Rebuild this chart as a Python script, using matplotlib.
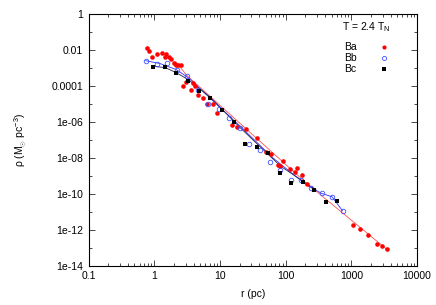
import matplotlib
matplotlib.use("Agg")
import matplotlib.pyplot as plt
from matplotlib.lines import Line2D
from matplotlib.ticker import LogLocator, FixedLocator, NullFormatter
import numpy as np

plt.rcParams['font.family'] = ['Liberation Sans', 'DejaVu Sans']
plt.rcParams['mathtext.fontset'] = 'custom'
plt.rcParams['mathtext.rm'] = 'Liberation Sans'
plt.rcParams['mathtext.it'] = 'Liberation Sans:italic'

# ---- data ----
r_Ba = [0.77, 0.848, 0.933, 1.10, 1.31, 1.44, 1.53, 1.68, 1.83, 1.97, 2.15, 2.33, 2.56,
        2.77, 3.10, 3.59, 3.90, 4.25, 4.59, 5.47, 6.43, 7.76, 9.03, 15.3, 18.2, 25.4,
        36.1, 50.8, 59.3, 77.4, 83.0, 90.3, 117, 139, 151, 178, 214,
        1050, 1356, 1766, 2460, 2913, 3468]
rho_Ba = [1.32e-2, 9.0e-3, 4.17e-3, 6.37e-3, 6.97e-3, 4.01e-3, 6.37e-3, 4.28e-3, 3.1e-3,
          1.86e-3, 1.55e-3, 1.49e-3, 1.59e-3, 1.05e-4, 1.68e-4, 6.03e-5, 1.43e-4, 1.05e-4,
          3.17e-5, 2.03e-5, 9.4e-6, 1.0e-5, 3.27e-6, 7.2e-7, 5.0e-7, 4.3e-7, 1.24e-7,
          2.03e-8, 1.63e-8, 4.14e-9, 3.64e-9, 6.65e-9, 2.29e-9, 1.68e-9, 2.81e-9, 1.10e-9,
          3.34e-10, 1.80e-12, 1.08e-12, 4.99e-13, 1.57e-13, 1.25e-13, 7.96e-14]

r_Bb = [0.743, 1.09, 1.55, 2.22, 3.21, 4.59, 6.59, 9.59, 13.9, 20.0, 28.0, 40.7, 57.9,
        82.2, 119, 170, 244, 352, 508, 735]
rho_Bb = [2.49e-3, 1.70e-3, 2.0e-3, 7.85e-4, 3.64e-4, 6.03e-5, 9.6e-6, 5.07e-6, 1.66e-6,
          4.78e-7, 6.29e-8, 2.91e-8, 6.08e-9, 2.09e-9, 5.8e-10, 5.8e-10, 2.16e-10,
          1.05e-10, 6.8e-11, 1.13e-11]

r_Bc = [0.969, 1.45, 2.16, 3.24, 4.84, 7.19, 10.8, 16.2, 24.1, 36.2, 54.0, 81.6, 121,
        182, 271, 405, 606]
rho_Bc = [1.23e-3, 1.15e-3, 5.56e-4, 2.04e-4, 5.31e-5, 2.16e-5, 4.63e-6, 9.93e-7,
          5.67e-8, 4.17e-8, 1.86e-8, 1.39e-9, 3.80e-10, 4.79e-10, 1.55e-10, 3.53e-11,
          4.07e-11]

# model curves
r_fitA = [2.15, 3.12, 20.2, 209, 3490]
rho_fitA = [2.19e-3, 3.98e-4, 8.4e-7, 3.8e-10, 7.8e-14]
r_fitB = [0.743, 1.22, 2.15, 3.27, 7.06, 20.2, 64.3, 209, 352, 508, 735]
rho_fitB = [2.6e-3, 1.81e-3, 8.4e-4, 3.0e-4, 2.16e-5, 5.94e-7, 9.8e-9, 3.05e-10,
            1.05e-10, 6.8e-11, 1.13e-11]
r_fitC = [0.969, 1.46, 2.15, 3.27, 7.06, 20.2, 83.3, 290]
rho_fitC = [1.25e-3, 1.08e-3, 5.7e-4, 2.32e-4, 2.45e-5, 4.9e-7, 3.5e-9, 1.61e-10]

xticks = [0.1, 1, 10, 100, 1000, 10000]
xticklabels = ['0.1', '1', '10', '100', '1000', '10000']
yticks = [1, 1e-2, 1e-4, 1e-6, 1e-8, 1e-10, 1e-12, 1e-14]
yticklabels = ['1', '0.01', '0.0001', '1e-06', '1e-08', '1e-10', '1e-12', '1e-14']

FS = 7.5

fig = plt.figure(figsize=(4.36, 3.05), dpi=100)
ax = fig.add_axes([88.5/436, 1-265.5/305, (417-88.5)/436, (265.5-14.3)/305])
ax.set_xscale('log')
ax.set_yscale('log')
ax.set_xlim(0.1, 10000)
ax.set_ylim(1e-14, 1)

ax.plot(r_fitA, rho_fitA, '-', color='#ff5050', lw=0.6, zorder=2)
ax.plot(r_fitB, rho_fitB, '-', color='#3030ff', lw=0.6, zorder=2)
ax.plot(r_fitC, rho_fitC, '-', color='#202050', lw=0.6, zorder=2)

ax.plot(r_Ba, rho_Ba, 'o', color='#ff0000', ms=3.3, mew=0, ls='none', zorder=3)
ax.plot(r_Bb, rho_Bb, 'o', mfc='none', mec='#4050ff', ms=3.3, mew=0.6, ls='none', zorder=3)
ax.plot(r_Bc, rho_Bc, 's', color='#000000', ms=3.0, mew=0, ls='none', zorder=4)

ax.xaxis.set_major_locator(FixedLocator(xticks))
ax.set_xticklabels(xticklabels)
ax.xaxis.set_minor_locator(LogLocator(base=10, subs=np.arange(2, 10), numticks=20))
ax.xaxis.set_minor_formatter(NullFormatter())
ax.yaxis.set_major_locator(FixedLocator(yticks))
ax.set_yticklabels(yticklabels)
ax.yaxis.set_minor_locator(FixedLocator([10.0**(-k) for k in range(1, 14, 2)]))
ax.yaxis.set_minor_formatter(NullFormatter())

ax.tick_params(which='both', direction='in', top=True, right=True, labelsize=FS,
               width=0.5, pad=4, colors='black')
ax.tick_params(which='major', length=4)
ax.tick_params(which='minor', length=2)
for s in ax.spines.values():
    s.set_linewidth(0.8)

ax.set_xlabel('r (pc)', fontsize=FS, labelpad=6)
ax.set_ylabel(r'ρ (M$_{\odot}$ pc$^{-3}$)', fontsize=FS, labelpad=16)

handles = [Line2D([], [], marker='o', color='#ff0000', ms=3.0, mew=0, ls='none'),
           Line2D([], [], marker='o', mfc='none', mec='#4050ff', ms=3.0, mew=0.6, ls='none'),
           Line2D([], [], marker='s', color='black', ms=2.8, mew=0, ls='none')]
leg = ax.legend(handles, ['Ba', 'Bb', 'Bc'], loc='upper right',
                bbox_to_anchor=(0.925, 0.985), markerfirst=False, frameon=False,
                title=r'T = 2.4 T$_\mathrm{N}$', title_fontsize=FS, fontsize=FS,
                handlelength=0.8, handletextpad=2.2, labelspacing=0.1,
                borderpad=0.2, borderaxespad=0.0)
leg._legend_box.sep = 6

fig.savefig('out.png', dpi=100)
